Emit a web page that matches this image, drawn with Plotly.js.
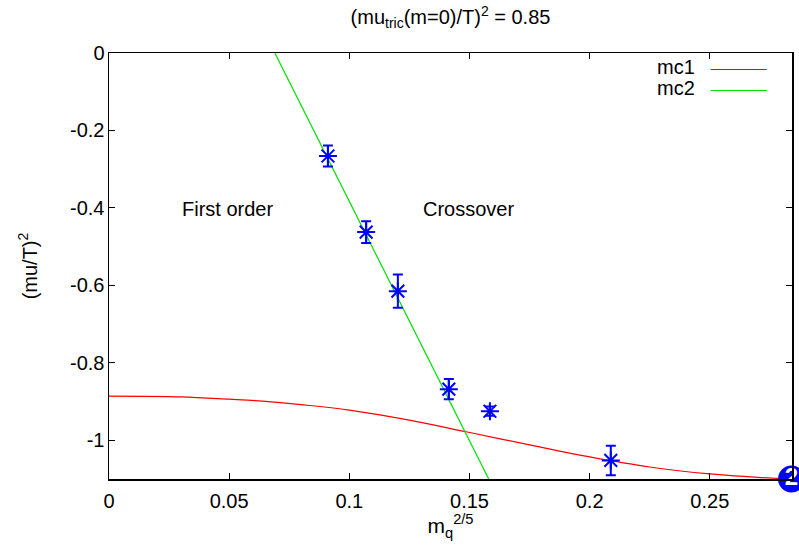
<!DOCTYPE html>
<html>
<head>
<meta charset="utf-8">
<script src="https://cdn.plot.ly/plotly-3.0.1.min.js"></script>
<style>html,body{margin:0;padding:0;background:#fff;}#chart{width:799px;height:545px;}</style>
</head>
<body>
<div id="chart"></div>
<script>
// Data points (blue asterisks with error bars)
const ptsX = [0.0911, 0.1070, 0.1202, 0.1414, 0.1585, 0.2088];
const ptsY = [-0.266, -0.4625, -0.615, -0.868, -0.925, -1.052];
const ptsErr = [0.027, 0.028, 0.043, 0.026, 0.012, 0.038];

// mc1 curve (red)
const mc1X = [0, 0.03, 0.05, 0.064, 0.08, 0.1, 0.125, 0.1486, 0.175, 0.2, 0.225, 0.25, 0.27, 0.284];
const mc1Y = [-0.886, -0.888, -0.894, -0.899, -0.908, -0.922, -0.948, -0.978, -1.012, -1.043, -1.069, -1.087, -1.096, -1.1];

// mc2 line (green)
const mc2X = [0.069, 0.158];
const mc2Y = [0, -1.1];

// tick labels
const xTickVals = [0, 0.05, 0.1, 0.15, 0.2, 0.25];
const xTickText = ["0", "0.05", "0.1", "0.15", "0.2", "0.25"];
const yTickVals = [0, -0.2, -0.4, -0.6, -0.8, -1];
const yTickText = ["0", "-0.2", "-0.4", "-0.6", "-0.8", "-1"];

// corner badge
const badgeX = [0.284];
const badgeY = [-1.1];
const badgeText = ["2"];

const FONT = "Liberation Sans, Arial, Helvetica, sans-serif";
const FS = 20;

const traces = [
  {x: mc1X, y: mc1Y, mode: "lines", line: {color: "#ff0000", width: 1.2, shape: "spline"}, name: "mc1", showlegend: false},
  {x: mc2X, y: mc2Y, mode: "lines", line: {color: "#00e000", width: 1.2}, name: "mc2", showlegend: false},
  {x: ptsX, y: ptsY, mode: "markers", name: "data", showlegend: false,
   marker: {symbol: "asterisk-open", size: 15, color: "#0000ff", line: {color: "#0000ff", width: 2}},
   error_y: {type: "data", array: ptsErr, visible: true, color: "#0000ff", thickness: 2, width: 5}},
  {x: badgeX, y: badgeY, mode: "markers", cliponaxis: false, showlegend: false,
   marker: {symbol: "circle", size: 27, color: "#0000ff", line: {width: 0}}, hoverinfo: "skip"},
  {x: badgeX, y: badgeY, mode: "text", text: badgeText, textposition: "middle center", cliponaxis: false, showlegend: false,
   textfont: {family: FONT, size: 24, color: "#ffffff", weight: "bold"}, hoverinfo: "skip"}
];

const layout = {
  width: 799, height: 545,
  margin: {l: 109, r: 7, t: 52.5, b: 66},
  paper_bgcolor: "#ffffff", plot_bgcolor: "#ffffff",
  font: {family: FONT, size: FS, color: "#000000"},
  title: {text: "(mu<sub>tric</sub>(m=0)/T)<sup>2</sup> = 0.85", font: {family: FONT, size: FS, color: "#000"},
          x: 0.5, xref: "paper", y: 1 - 17/545, yref: "container", xanchor: "center", yanchor: "middle"},
  xaxis: {range: [0, 0.2842], tickvals: xTickVals, ticktext: xTickText, ticks: "inside", ticklen: 6,
          tickcolor: "#000", showline: true, linecolor: "#000", linewidth: 1.5, mirror: "ticks",
          showgrid: false, zeroline: false, ticklabelstandoff: 3, tickfont: {family: FONT, size: FS},
          title: {text: "m<sub>q</sub><sup>2/5</sup>", font: {family: FONT, size: 21}, standoff: 7}},
  yaxis: {range: [-1.1, 0], tickvals: yTickVals, ticktext: yTickText, ticks: "inside", ticklen: 6,
          tickcolor: "#000", showline: true, linecolor: "#000", linewidth: 1.5, mirror: "ticks",
          showgrid: false, zeroline: false, ticklabelstandoff: -1, tickfont: {family: FONT, size: FS},
          title: {text: "(mu/T)<sup>2</sup>", font: {family: FONT, size: FS}, standoff: 27}},
  annotations: [
    {x: 0.0495, y: -0.404, xref: "x", yref: "y", text: "First order", showarrow: false, font: {family: FONT, size: FS}},
    {x: 0.1494, y: -0.404, xref: "x", yref: "y", text: "Crossover", showarrow: false, font: {family: FONT, size: FS}},
    {x: 0.861, y: 0.9613, xref: "paper", yref: "paper", text: "mc1", showarrow: false, xanchor: "right", yanchor: "middle", yshift: 2, font: {family: FONT, size: FS}},
    {x: 0.861, y: 0.912, xref: "paper", yref: "paper", text: "mc2", showarrow: false, xanchor: "right", yanchor: "middle", yshift: 2, font: {family: FONT, size: FS}}
  ],
  shapes: [
    {type: "line", xref: "paper", yref: "paper", x0: 0.881, x1: 0.963, y0: 0.9613, y1: 0.9613, line: {color: "#ff0000", width: 1.2}},
    {type: "line", xref: "paper", yref: "paper", x0: 0.881, x1: 0.963, y0: 0.912, y1: 0.912, line: {color: "#00e000", width: 1.2}}
  ]
};

Plotly.newPlot("chart", traces, layout, {displayModeBar: false, staticPlot: true});
</script>
</body>
</html>
